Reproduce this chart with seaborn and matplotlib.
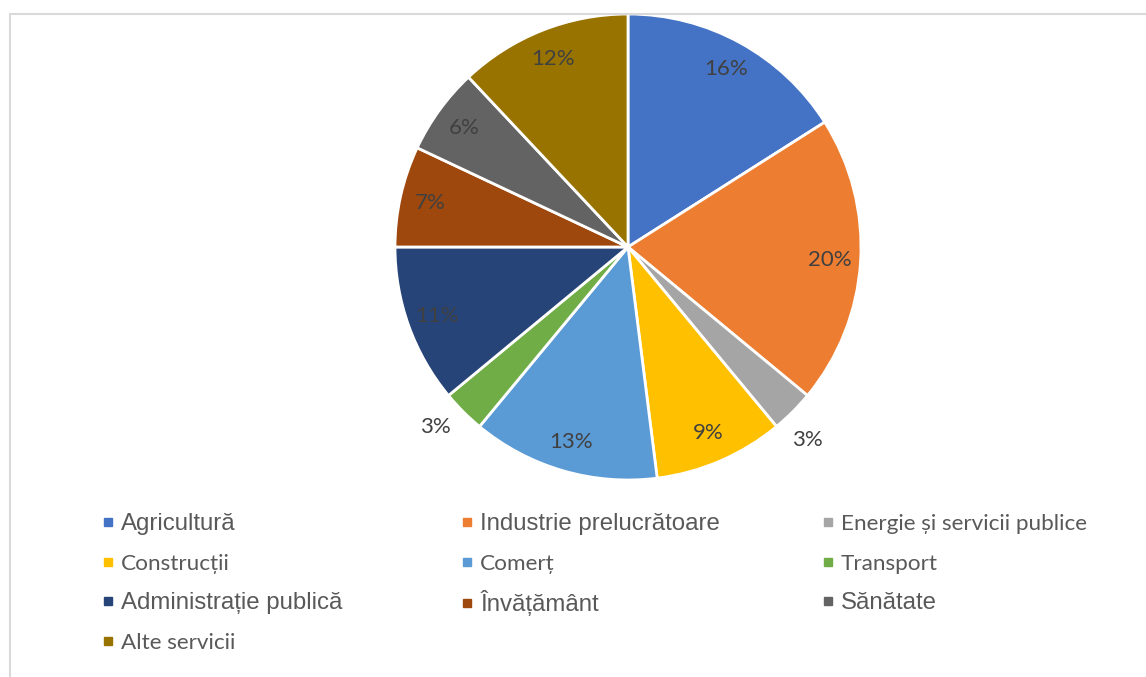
import numpy as np
import matplotlib
matplotlib.use("Agg")
import matplotlib.pyplot as plt
from matplotlib.lines import Line2D
from matplotlib.patches import Rectangle
import seaborn as sns

sectors = ["Agricultură", "Industrie prelucrătoare", "Energie și servicii publice",
           "Construcții", "Comerț", "Transport", "Administrație publică",
           "Învățământ", "Sănătate", "Alte servicii"]
shares = [16, 20, 3, 9, 13, 3, 11, 7, 6, 12]
colors = ["#4472C4", "#ED7D31", "#A5A5A5", "#FFC000", "#5B9BD5",
          "#70AD47", "#264478", "#9E480E", "#636363", "#997300"]
# legend labels drawn in the wider font in the original
big_font = ["Agricultură", "Industrie prelucrătoare", "Administrație publică",
            "Învățământ", "Sănătate"]
# small slices whose label sits outside the pie
outside = ["Energie și servicii publice", "Transport"]

sns.set_theme(style="white")
pal = sns.color_palette(colors)

W, H = 1146, 677
fig = plt.figure(figsize=(W / 100, H / 100), dpi=100)

# light frame of the chart area
fig.patches.append(Rectangle((9.5 / W, -0.05), 1.1, 1.05 - 13.5 / H,
                             transform=fig.transFigure, fill=False,
                             edgecolor="#d9d9d9", lw=1.5))

cx, cy, r = 628, 247, 233
ax = fig.add_axes([(cx - r) / W, (H - cy - r) / H, 2 * r / W, 2 * r / H])
wedges, texts, autotexts = ax.pie(
    shares, colors=pal, startangle=90, counterclock=False,
    autopct="%1.0f%%", pctdistance=0.87,
    wedgeprops=dict(edgecolor="white", linewidth=2),
    textprops=dict(color="#404040", fontsize=16, family=["Lato", "DejaVu Sans"]))
ax.set_xlim(-1, 1)
ax.set_ylim(-1, 1)
ax.set_aspect("equal")
ax.axis("off")

for w, t, name in zip(wedges, autotexts, sectors):
    if name in outside:
        ang = np.deg2rad((w.theta1 + w.theta2) / 2 - 2)
        t.set_position((1.13 * np.cos(ang), 1.13 * np.sin(ang)))

# legend: 3 columns, filled row by row, one small legend per entry
col_x = [108, 467, 828]      # marker centres (px)
row_y = [522, 562, 601, 641]  # text centres (px)
for i, (name, c) in enumerate(zip(sectors, pal)):
    row, col = divmod(i, 3)
    if name in big_font:
        fam, fs = "Liberation Sans", 17.3
    else:
        fam, fs = ["Lato", "DejaVu Sans"], 16.2
    fs_px = fs * 100 / 72
    hl_px, gap_px = 10, 13
    h = Line2D([], [], marker="s", ls="", color=c, markersize=6.2)
    leg = fig.legend([h], [name], loc="center left",
                     bbox_to_anchor=((col_x[col] - hl_px / 2) / W, 1 - (row_y[row] + 2) / H),
                     frameon=False, borderpad=0, borderaxespad=0,
                     handlelength=hl_px / fs_px,
                     handletextpad=(gap_px - hl_px / 2) / fs_px,
                     prop=dict(family=fam, size=fs))
    leg.get_texts()[0].set_color("#595959")

fig.savefig("out.png", dpi=100)
